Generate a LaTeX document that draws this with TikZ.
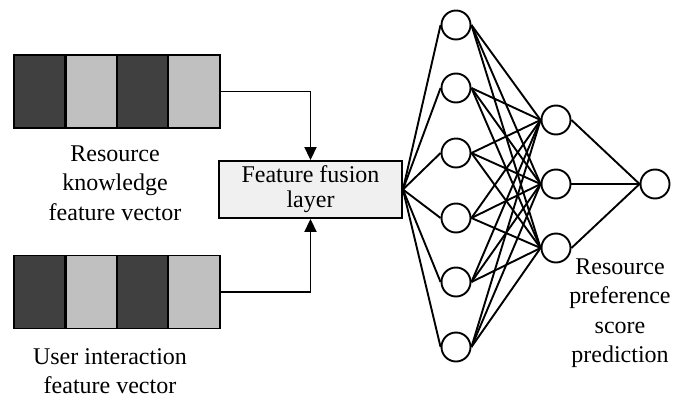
\documentclass[tikz,border=0pt]{standalone}
\usepackage{fontspec}
\setmainfont{Liberation Serif}
\usetikzlibrary{arrows.meta}
\definecolor{celldark}{HTML}{404040}
\definecolor{celllight}{HTML}{C0C0C0}
\definecolor{fusefill}{HTML}{F0F0F0}
\tikzset{
  wire/.style={line width=1.9pt, black},
  cell/.style={draw, line width=1.9pt, minimum width=51.5pt, minimum height=73pt, inner sep=0pt, outer sep=0pt},
  dark/.style={cell, fill=celldark},
  light/.style={cell, fill=celllight},
  neuron/.style={circle, draw, line width=1.9pt, minimum size=29pt, inner sep=0pt, fill=white},
  label/.style={align=center, font=\fontsize{24}{29.5}\selectfont, inner sep=0pt},
  fusebox/.style={draw, line width=1.9pt, fill=fusefill, minimum width=183pt, minimum height=57pt, inner sep=0pt, align=center, font=\fontsize{24}{25}\selectfont},
  tip/.style={-{Triangle[length=13pt,width=12pt]}}
}
\begin{document}
\begin{tikzpicture}[x=1pt,y=-1pt]
\useasboundingbox (0,0) rectangle (677,399);

% resource knowledge feature vector
\node[dark]  (k1) at (39.5,91.5) {};
\node[light] (k2) at (91.5,91.5) {};
\node[dark]  (k3) at (142.5,91.5) {};
\node[light] (k4) at (194,91.5) {};
\node[label] (klab) at (115,183) {Resource\\knowledge\\feature vector};

% user interaction feature vector
\node[dark]  (u1) at (39.5,292) {};
\node[light] (u2) at (91.5,292) {};
\node[dark]  (u3) at (142.5,292) {};
\node[light] (u4) at (194,292) {};
\node[label] (ulab) at (110,371) {User interaction\\feature vector};

% fusion layer
\node[fusebox] (fuse) at (310.5,189.5) {Feature fusion\\layer};

\draw[wire,tip] (k4.east) -| (fuse.north);
\draw[wire,tip] (u4.east) -| (fuse.south);

% hidden layer 1
\foreach \i/\y in {1/25,2/88,3/153,4/218,5/282,6/347}
  \node[neuron] (h\i) at (456,\y) {};
% hidden layer 2
\foreach \j/\y in {1/120,2/184,3/248}
  \node[neuron] (g\j) at (556,\y) {};
% output
\node[neuron] (o) at (655,184) {};

\node[label] (plab) at (620,313) {Resource\\preference\\score\\prediction};

% connections
\foreach \i in {1,...,6}
  \draw[wire] (fuse.east) -- (h\i.west);
\foreach \i in {1,...,6}
  \foreach \j in {1,2,3}
    \draw[wire] (h\i.east) -- (g\j.west);
\foreach \j in {1,2,3}
  \draw[wire] (g\j.east) -- (o.west);
\end{tikzpicture}
\end{document}
